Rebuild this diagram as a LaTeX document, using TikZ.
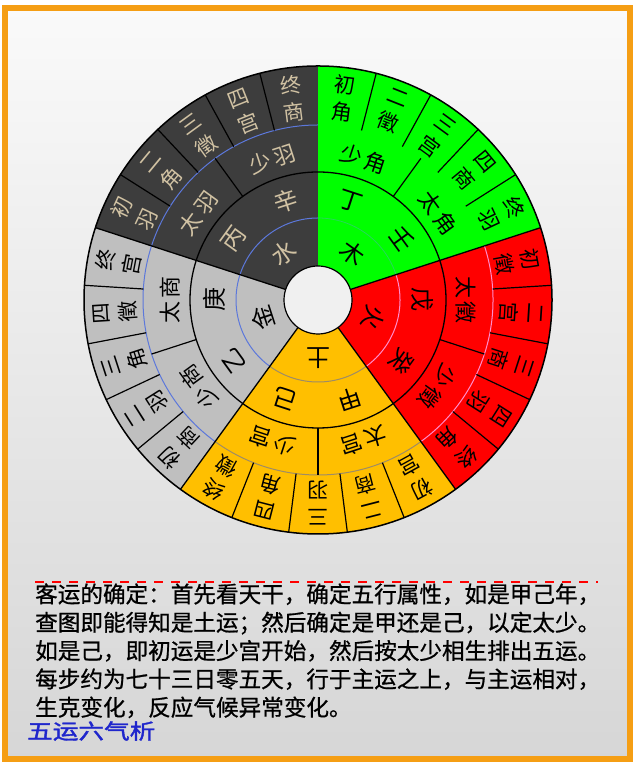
\documentclass[tikz,border=0pt]{standalone}
\usepackage{fontspec}
\setmainfont{Noto Sans CJK SC}
\newfontfamily\boldish[FakeBold=0.8]{Noto Sans CJK SC}
\newfontfamily\titlefont[FakeBold=1.6]{Noto Sans CJK SC}
\usepackage{xcolor}
\usepackage{tikz}
\usetikzlibrary{backgrounds}
\definecolor{frameorange}{rgb}{0.96, 0.62, 0.08}
\definecolor{waterdark}{rgb}{0.24, 0.24, 0.24}
\definecolor{woodgreen}{rgb}{0.0, 1.0, 0.0}
\definecolor{firered}{rgb}{1.0, 0.0, 0.0}
\definecolor{earthyellow}{rgb}{1.0, 0.75, 0.0}
\definecolor{metalgrey}{rgb}{0.75, 0.75, 0.75}
\definecolor{darktext}{rgb}{0.82, 0.76, 0.64}
\definecolor{ringblue}{rgb}{0.36, 0.47, 0.86}
\definecolor{ringpink}{rgb}{1.0, 0.55, 0.8}
\definecolor{ringtan}{rgb}{0.62, 0.55, 0.4}
\definecolor{ringgreen}{rgb}{0.15, 0.85, 0.35}
\definecolor{titleblue}{rgb}{0.12, 0.15, 0.8}

\tikzset{
    yun/.style={inner sep=0pt, align=center, font=\fontsize{21}{27}\selectfont},
    taishao/.style={inner sep=0pt, font=\fontsize{22}{24}\selectfont},
    gan/.style={inner sep=0pt, font=\fontsize{24}{26}\selectfont},
    textline/.style={anchor=base west, inner sep=0pt, font=\boldish\fontsize{22.6}{28}\selectfont}
}

\begin{document}
\begin{tikzpicture}[x=1pt, y=1pt]
    \useasboundingbox (0,0) rectangle (640,767);
    \shade[top color=white!98!black, bottom color=white!84!black] (4.5,8) rectangle (629.5,758.5);
    \draw[frameorange, line width=6] (4.5,8) rectangle (629.5,758.5);

    \begin{scope}[shift={(318,467)}]
    \fill[waterdark] (0,0) -- (162:234) arc[start angle=162, end angle=90, radius=234] -- cycle;
    \fill[woodgreen] (0,0) -- (90:234) arc[start angle=90, end angle=18, radius=234] -- cycle;
    \fill[firered] (0,0) -- (18:234) arc[start angle=18, end angle=-54, radius=234] -- cycle;
    \fill[earthyellow] (0,0) -- (-54:234) arc[start angle=-54, end angle=-126, radius=234] -- cycle;
    \fill[metalgrey] (0,0) -- (-126:234) arc[start angle=-126, end angle=-198, radius=234] -- cycle;

    \draw[ringblue, line width=1] (90:82) arc[start angle=90, end angle=234, radius=82];
    \draw[ringblue, line width=1] (90:175) arc[start angle=90, end angle=234, radius=175];
    \draw[ringgreen, line width=0.8] (90:82) arc[start angle=90, end angle=18, radius=82];
    \draw[ringpink, line width=1] (18:82) arc[start angle=18, end angle=-54, radius=82];
    \draw[ringpink, line width=1] (18:175) arc[start angle=18, end angle=-54, radius=175];
    \draw[ringtan, line width=1] (-54:82) arc[start angle=-54, end angle=-126, radius=82];
    \draw[ringtan, line width=1] (-54:175) arc[start angle=-54, end angle=-126, radius=175];

    \draw[line width=1.3] (0,0) circle[radius=128];
    \draw[line width=1.5] (0,0) circle[radius=234];
    \foreach \a in {18,-54,-126,162}
        \draw[line width=1.3] (\a:34) -- (\a:234);
    \foreach \a in {126,54,-18,-90,-162}
        \draw[line width=1.2] (\a:128) -- (\a:175);
    \foreach \s in {162,90,18,-54,-126}
        \foreach \k in {1,...,4}
            \draw[line width=1.2] ({\s-14.4*\k}:175) -- ({\s-14.4*\k}:234);
    \filldraw[fill=white!94!black, line width=1.2] (0,0) circle[radius=34];

    \foreach \a/\t/\c [count=\i] in {154.8/{初\\羽}/darktext, 140.4/{二\\角}/darktext, 126/{三\\徵}/darktext,
        111.6/{四\\宫}/darktext, 97.2/{终\\商}/darktext,
        82.8/{初\\角}/black, 68.4/{二\\徵}/black, 54/{三\\宫}/black, 39.6/{四\\商}/black, 25.2/{终\\羽}/black,
        10.8/{初\\徵}/black, -3.6/{二\\宫}/black, -18/{三\\商}/black, -32.4/{四\\羽}/black, -46.8/{终\\角}/black,
        -61.2/{初\\宫}/black, -75.6/{二\\商}/black, -90/{三\\羽}/black, -104.4/{四\\角}/black, -118.8/{终\\徵}/black,
        -133.2/{初\\商}/black, -147.6/{二\\羽}/black, -162/{三\\角}/black, -176.4/{四\\徵}/black, -190.8/{终\\宫}/black}
        \node[yun, text=\c, rotate=\a-90] (ke-\i) at (\a:203) {\t};

    \foreach \a/\t/\c [count=\i] in {144/{太\thinspace 羽}/darktext, 108/{少\thinspace 羽}/darktext,
        72/{少\thinspace 角}/black, 36/{太\thinspace 角}/black, 0/{太\thinspace 徵}/black, -36/{少\thinspace 徵}/black,
        -72/{太\thinspace 宫}/black, -108/{少\thinspace 宫}/black, -144/{少\thinspace 商}/black, -180/{太\thinspace 商}/black}
        \node[taishao, text=\c, rotate=\a-90] (ts-\i) at (\a:148) {\t};

    \foreach \a/\t/\c [count=\i] in {144/丙/darktext, 108/辛/darktext, 72/丁/black, 36/壬/black, 0/戊/black,
        -36/癸/black, -72/甲/black, -108/己/black, -144/乙/black, -180/庚/black}
        \node[gan, text=\c, rotate=\a-90] (gan-\i) at (\a:104) {\t};

    \foreach \a/\t/\c [count=\i] in {126/水/darktext, 54/木/black, -18/火/black, -90/土/black, -162/金/black}
        \node[gan, text=\c, rotate=\a-90] (xing-\i) at (\a:58) {\t};
    \end{scope}

    \draw[red, line width=1.2, dash pattern=on 9pt off 8pt] (35,185) -- (598,185);
    \node[textline] (l1) at (35,164.4) {客运的确定：首先看天干，确定五行属性，如是甲己年，};
    \node[textline] (l2) at (35,136.1) {查图即能得知是土运；然后确定是甲还是己，以定太少。};
    \node[textline] (l3) at (35,107.8) {如是己，即初运是少宫开始，然后按太少相生排出五运。};
    \node[textline] (l4) at (35,79.5) {每步约为七十三日零五天，行于主运之上，与主运相对，};
    \node[textline] (l5) at (35,51.2) {生克变化，反应气候异常变化。};
    \node[textline, text=titleblue, font=\titlefont\fontsize{21}{24}\selectfont, xscale=1.22] (title) at (27,28) {五运六气析};
\end{tikzpicture}
\end{document}
